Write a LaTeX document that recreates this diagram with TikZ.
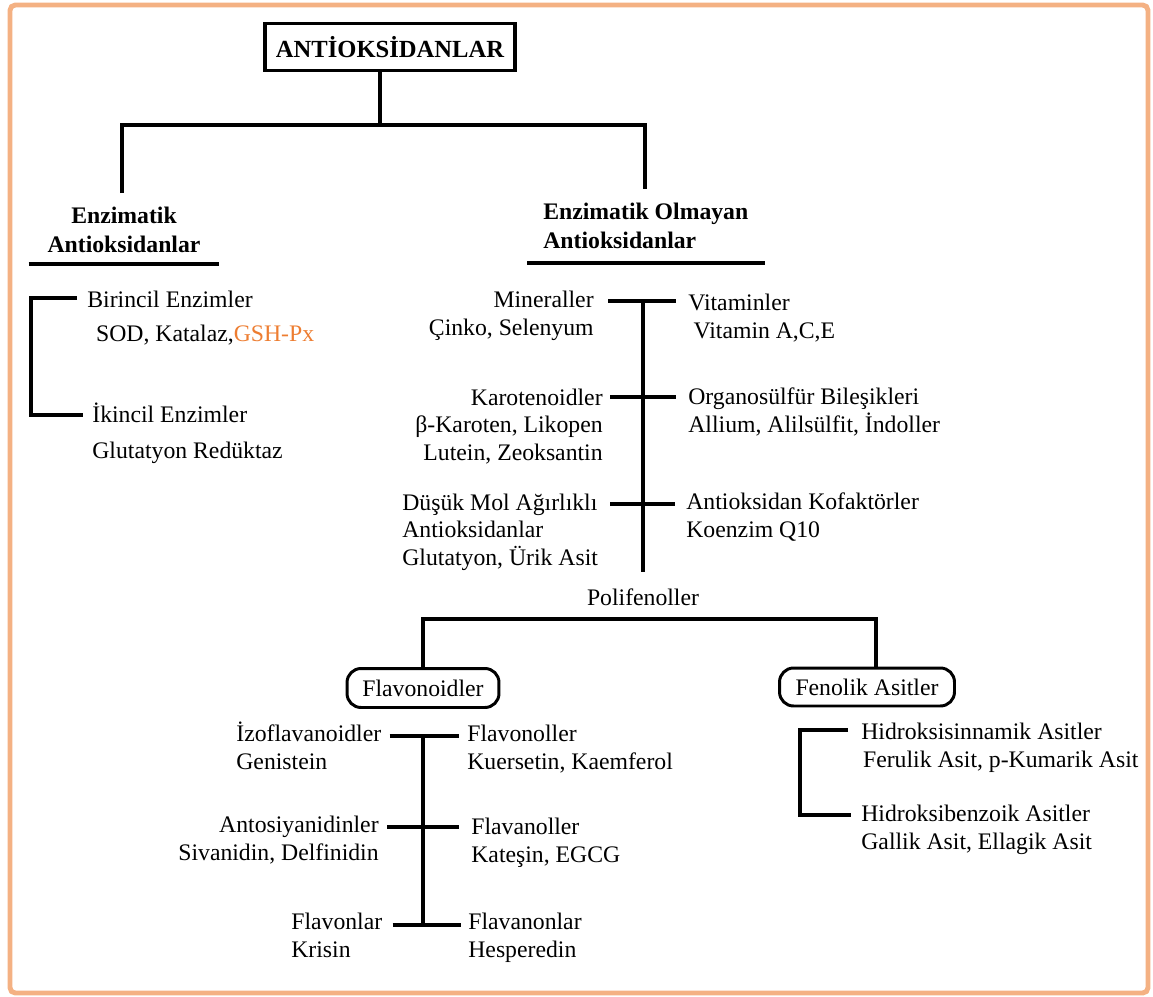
\documentclass[tikz,border=0pt]{standalone}
\usepackage{fontspec}
\setmainfont{Liberation Serif}
\usetikzlibrary{positioning}
\definecolor{peach}{HTML}{F4B183}
\definecolor{gshorange}{HTML}{ED7D31}

\begin{document}
\begin{tikzpicture}[x=0.02cm,y=-0.02cm,every node/.style={inner sep=0pt},
txt/.style={font=\fontsize{13.5}{15.6}\selectfont,align=left},
rtxt/.style={txt,align=right},
hd/.style={font=\fontsize{13.5}{16.5}\selectfont\bfseries},
ln/.style={line width=2pt},
grp/.style={draw,line width=1.7pt,rounded corners=8pt,font=\fontsize{13.5}{15.6}\selectfont}]
\useasboundingbox (0,0) rectangle (1153,997);
\draw[peach,line width=2.8pt,rounded corners=3pt] (10,5) rectangle (1148,993);

% top level
\node[draw,line width=2pt,minimum width=5cm,minimum height=0.94cm,font=\fontsize{14}{16}\selectfont\bfseries] (root) at (390,47) {ANTİOKSİDANLAR};
\coordinate (j1) at (380,125);
\coordinate (eL) at (122,193);
\coordinate (eR) at (645,189);
\draw[ln] (root.south -| j1) -- (j1);
\draw[ln] (eL) |- (j1) -| (eR);
\node[hd,align=center,anchor=base,minimum width=3.8cm] (enzL) at (124,252) {Enzimatik\\Antioksidanlar};
\node[hd,align=left,anchor=base west,inner xsep=0.32cm] (enzR) at (527,248) {Enzimatik Olmayan\\Antioksidanlar};
\draw[ln] ([yshift=-0.24cm]enzL.base west) -- ([yshift=-0.24cm]enzL.base east);
\draw[ln] ([yshift=-0.3cm]enzR.base west) -- ([yshift=-0.3cm]enzR.base east);

% enzimatik
\node[txt,anchor=base west] (bir) at (87,341) {Birincil Enzimler\\[3.4pt]\hspace*{5pt}SOD, Katalaz,\textcolor{gshorange}{GSH-Px}};
\node[txt,anchor=base west] (iki) at (92,458) {İkincil Enzimler\\[4.5pt]Glutatyon Redüktaz};
\draw[ln] ([shift={(-10,-43)}]bir.base west) -- ++(-46,0) |- ([shift={(-9,-43)}]iki.base west);

% enzimatik olmayan
\coordinate (k1) at (643,301);
\coordinate (k2) at (643,397);
\coordinate (k3) at (643,504);
\coordinate (kend) at (643,572);
\draw[ln] (k1) -- (kend);
\node[rtxt,anchor=base east] (mine) at (594,335) {Mineraller\\Çinko, Selenyum};
\node[txt,anchor=base west] (vit) at (688,338) {Vitaminler\\\hspace*{3pt}Vitamin A,C,E};
\draw[ln] ([xshift=0.28cm]mine.east |- k1) -- ([xshift=-0.24cm]vit.west |- k1);
\node[rtxt,anchor=base east] (caro) at (603,460) {Karotenoidler\\β-Karoten, Likopen\\Lutein, Zeoksantin};
\node[txt,anchor=base west] (orga) at (688,432) {Organosülfür Bileşikleri\\Allium, Alilsülfit, İndoller};
\draw[ln] ([xshift=0.14cm]caro.east |- k2) -- ([xshift=-0.24cm]orga.west |- k2);
\node[txt,anchor=base west] (dmol) at (402,565) {Düşük Mol Ağırlıklı\\Antioksidanlar\\Glutatyon, Ürik Asit};
\node[txt,anchor=base west] (kof) at (686,537) {Antioksidan Kofaktörler\\Koenzim Q10};
\draw[ln] ([xshift=0.24cm]dmol.east |- k3) -- ([xshift=-0.22cm]kof.west |- k3);

% polifenoller
\node[txt,anchor=base] (poli) at (643,605) {Polifenoller};
\coordinate (p1) at (643,619);
\node[grp,minimum width=3.04cm,minimum height=0.78cm] (flav) at (423,688) {Flavonoidler};
\node[grp,minimum width=3.5cm,minimum height=0.76cm] (fenol) at (867,687) {Fenolik Asitler};
\draw[ln] (flav.north) |- (p1) -| ([xshift=0.18cm]fenol.north);

% flavonoidler
\coordinate (f1) at (423,736);
\coordinate (f2) at (423,827);
\coordinate (f3) at (423,925);
\draw[ln] (f1) -- (f3);
\node[txt,anchor=base west] (izo) at (236,769) {İzoflavanoidler\\Genistein};
\node[txt,anchor=base west] (fnol) at (467,769) {Flavonoller\\Kuersetin, Kaemferol};
\draw[ln] ([xshift=0.16cm]izo.east |- f1) -- ([xshift=-0.16cm]fnol.west |- f1);
\node[rtxt,anchor=base east] (anto) at (379,860) {Antosiyanidinler\\Sivanidin, Delfinidin};
\node[txt,anchor=base west] (fanol) at (471,862) {Flavanoller\\Kateşin, EGCG};
\draw[ln] ([xshift=0.16cm]anto.east |- f2) -- ([xshift=-0.24cm]fanol.west |- f2);
\node[txt,anchor=base west] (fon) at (291,957) {Flavonlar\\Krisin};
\node[txt,anchor=base west] (fanon) at (468,957) {Flavanonlar\\Hesperedin};
\draw[ln] ([xshift=0.2cm]fon.east |- f3) -- ([xshift=-0.14cm]fanon.west |- f3);

% fenolik asitler
\node[txt,anchor=base west] (hsin) at (861,767) {Hidroksisinnamik Asitler\\\hspace*{1pt}Ferulik Asit, p-Kumarik Asit};
\node[txt,anchor=base west] (hben) at (861,849) {Hidroksibenzoik Asitler\\Gallik Asit, Ellagik Asit};
\draw[ln] ([shift={(-13,-37)}]hsin.base west) -- ++(-48,0) |- ([shift={(-10,-34)}]hben.base west);
\end{tikzpicture}
\end{document}
